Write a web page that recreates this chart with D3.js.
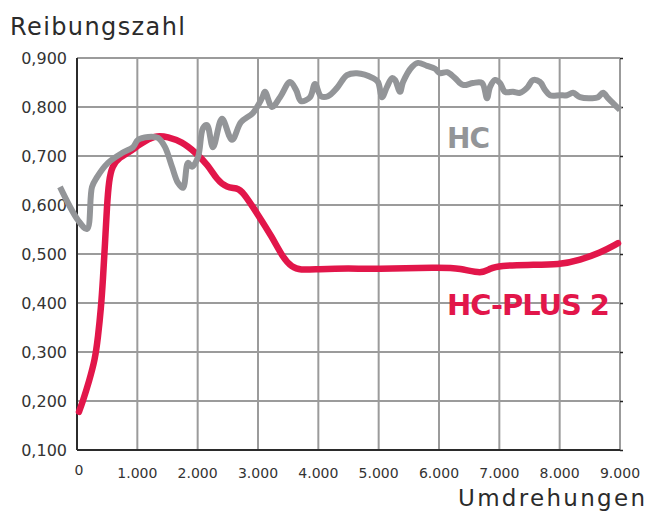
<!DOCTYPE html>
<html lang="de">
<head>
<meta charset="UTF-8">
<title>Reibungszahl</title>
<script src="https://d3js.org/d3.v7.min.js"></script>
<style>
  body { margin: 0; background: #fff; }
  svg { display: block; font-family: "DejaVu Sans", "Noto Sans", sans-serif; }
  .grid line { stroke: #9b9b9b; stroke-width: 2; }
  .tick-label { fill: #333; font-size: 15px; }
</style>
</head>
<body>
<div id="chart"></div>
<script>
// Umdrehungen / Reibungszahl
const hcX = [-282, 17, 166, 249, 332, 514, 746, 928, 1011, 1177, 1343, 1459, 1575, 1674, 1757, 1840, 1906, 2006,
  2089, 2155, 2254, 2403, 2569, 2718, 2917, 3066, 3116, 3232, 3365, 3531, 3630, 3713, 3862, 3945, 4044, 4160,
  4310, 4475, 4641, 4906, 4989, 5056, 5138, 5221, 5271, 5354, 5404, 5553, 5652, 5801, 5934, 6017, 6133, 6266,
  6398, 6564, 6713, 6796, 6846, 6929, 7011, 7094, 7227, 7343, 7459, 7558, 7674, 7757, 7840, 8006, 8122, 8221,
  8337, 8536, 8636, 8719, 8802, 8884, 9000];
const hcY = [0.637, 0.569, 0.551, 0.637, 0.657, 0.686, 0.706, 0.718, 0.733, 0.739, 0.737, 0.718, 0.678, 0.645, 0.635, 0.686, 0.678, 0.698,
  0.757, 0.763, 0.718, 0.776, 0.733, 0.769, 0.788, 0.818, 0.831, 0.800, 0.820, 0.851, 0.835, 0.812, 0.820, 0.847, 0.822, 0.822,
  0.839, 0.865, 0.869, 0.859, 0.851, 0.820, 0.841, 0.859, 0.855, 0.831, 0.851, 0.882, 0.890, 0.884, 0.878, 0.869, 0.871, 0.859,
  0.845, 0.849, 0.849, 0.818, 0.841, 0.855, 0.849, 0.831, 0.831, 0.829, 0.839, 0.855, 0.851, 0.835, 0.824, 0.824, 0.824, 0.829,
  0.820, 0.818, 0.820, 0.829, 0.818, 0.808, 0.794];

const plusX = [33, 33, 99, 199, 298, 348, 398, 431, 464, 497, 530, 580, 713, 845, 1044, 1293, 1508, 1740, 1956, 2171, 2321,
  2486, 2652, 2751, 3000, 3232, 3415, 3564, 3696, 3978, 4525, 4906, 6017, 6349, 6713, 6846, 7011, 7459, 8006,
  8337, 8669, 8967, 8967];
const plusY = [0.178, 0.178, 0.200, 0.240, 0.284, 0.330, 0.390, 0.450, 0.520, 0.600, 0.650, 0.680, 0.698, 0.706, 0.724, 0.743, 0.739, 0.729, 0.708, 0.682, 0.651,
  0.635, 0.635, 0.627, 0.580, 0.535, 0.492, 0.473, 0.467, 0.469, 0.471, 0.469, 0.473, 0.471, 0.459, 0.471, 0.476, 0.478, 0.478,
  0.488, 0.502, 0.522, 0.522];

const xTicks = [0, 1000, 2000, 3000, 4000, 5000, 6000, 7000, 8000, 9000];
const yTicks = [0.1, 0.2, 0.3, 0.4, 0.5, 0.6, 0.7, 0.8, 0.9];

const W = 649, H = 512;
const margin = { top: 58, right: 29, bottom: 62, left: 77 };
const width = W - margin.left - margin.right;
const height = H - margin.top - margin.bottom;

const svg = d3.select("#chart").append("svg")
  .attr("width", W)
  .attr("height", H);

const g = svg.append("g")
  .attr("transform", "translate(" + margin.left + "," + margin.top + ")");

const x = d3.scaleLinear().domain([0, 9000]).range([0, width]);
const y = d3.scaleLinear().domain([0.1, 0.9]).range([height, 0]);

const fmtY = d => d3.format(".3f")(d).replace(".", ",");
const fmtX = d => d === 0 ? "0" : d3.format(",")(d).replace(",", ".");

// grid
const grid = g.append("g").attr("class", "grid");
grid.selectAll(".gx").data(xTicks).enter().append("line")
  .attr("x1", d => x(d)).attr("x2", d => x(d))
  .attr("y1", 0).attr("y2", height);
grid.selectAll(".gy").data(yTicks).enter().append("line")
  .attr("x1", 0).attr("x2", width)
  .attr("y1", d => y(d)).attr("y2", d => y(d));

// small black ticks on the right border
g.append("g")
  .attr("transform", "translate(" + width + ",0)")
  .call(d3.axisRight(y).tickValues(yTicks).tickSize(3).tickFormat(""))
  .call(a => a.select(".domain").remove())
  .selectAll("line").attr("stroke", "#222").attr("stroke-width", 1.5);

// left and bottom axes
g.append("line").attr("x1", 0).attr("x2", 0).attr("y1", 0).attr("y2", height)
  .attr("stroke", "#2b2b2b").attr("stroke-width", 2);
g.append("line").attr("x1", 0).attr("x2", width).attr("y1", height).attr("y2", height)
  .attr("stroke", "#2b2b2b").attr("stroke-width", 2);

// tick labels
g.selectAll(".ylab").data(yTicks).enter().append("text")
  .attr("class", "tick-label")
  .attr("x", -10)
  .attr("y", d => y(d))
  .attr("dy", "0.36em")
  .attr("text-anchor", "end")
  .style("font-size", "16px")
  .text(fmtY);

g.selectAll(".xlab").data(xTicks).enter().append("text")
  .attr("class", "tick-label")
  .attr("x", d => x(d) + (d === 0 ? 2 : 0))
  .attr("y", d => height + (d === 0 ? 20 : 23))
  .attr("dy", "0.36em")
  .attr("text-anchor", "middle")
  .style("font-size", "14px")
  .text(fmtX);

// curves
const line = d3.line()
  .x(d => x(d[0]))
  .y(d => y(d[1]))
  .curve(d3.curveCatmullRom.alpha(0.5));

const smoothLine = d3.line()
  .x(d => x(d[0]))
  .y(d => y(d[1]))
  .curve(d3.curveBasis);

g.append("path")
  .datum(d3.zip(plusX, plusY))
  .attr("fill", "none")
  .attr("stroke", "#e2164a")
  .attr("stroke-width", 6.5)
  .attr("stroke-linecap", "round")
  .attr("stroke-linejoin", "round")
  .attr("d", smoothLine);

g.append("path")
  .datum(d3.zip(hcX, hcY))
  .attr("fill", "none")
  .attr("stroke", "#939598")
  .attr("stroke-width", 6)
  .attr("stroke-linejoin", "round")
  .attr("d", line);

// series labels
svg.append("text")
  .attr("x", 447).attr("y", 148)
  .attr("fill", "#939598")
  .style("font-size", "28px").style("font-weight", "bold")
  .attr("textLength", 43)
  .text("HC");

svg.append("text")
  .attr("x", 447).attr("y", 315)
  .attr("fill", "#e2164a")
  .style("font-size", "29px").style("font-weight", "bold")
  .attr("textLength", 163)
  .text("HC-PLUS 2");

// axis titles
svg.append("text")
  .attr("x", 10).attr("y", 35)
  .attr("fill", "#2b2b2b")
  .style("font-size", "24px")
  .attr("textLength", 175)
  .text("Reibungszahl");

svg.append("text")
  .attr("x", 645).attr("y", 506)
  .attr("text-anchor", "end")
  .attr("fill", "#2b2b2b")
  .style("font-size", "23px")
  .attr("textLength", 187)
  .text("Umdrehungen");
</script>
</body>
</html>
